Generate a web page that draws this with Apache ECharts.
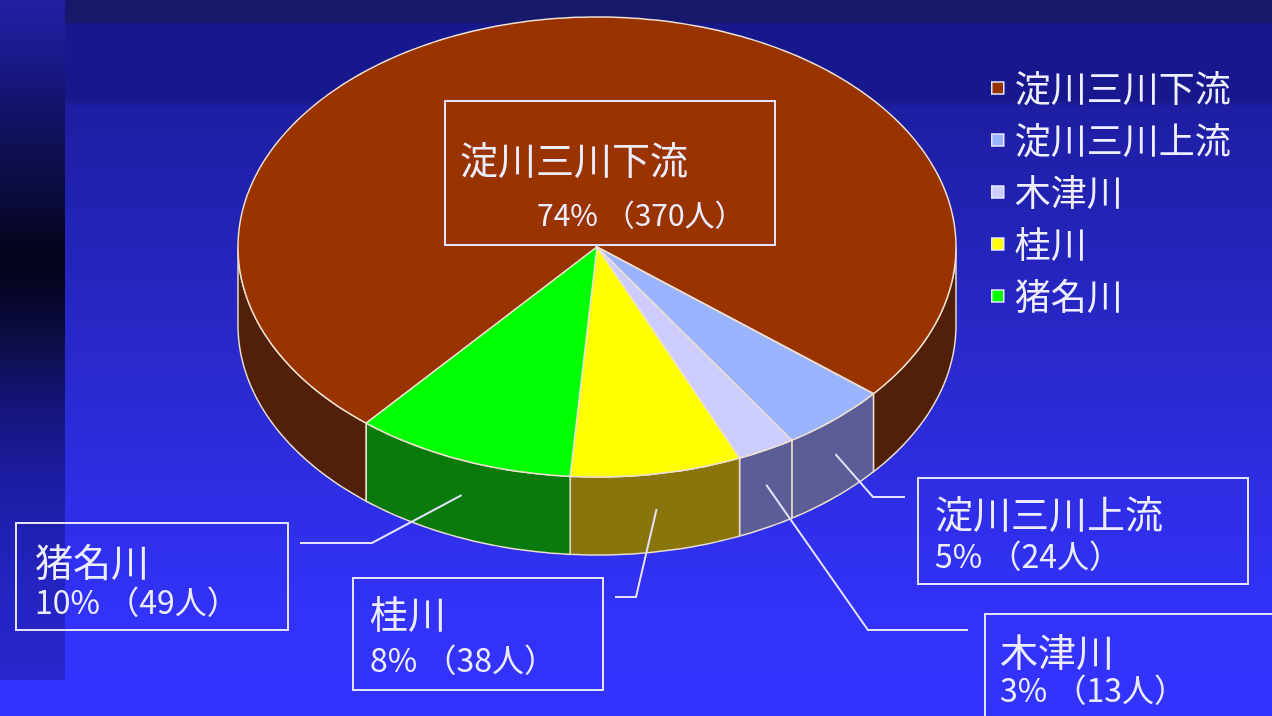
<!DOCTYPE html>
<html>
<head>
<meta charset="utf-8">
<title>淀川三川 参加者内訳</title>
<script src="https://cdn.jsdelivr.net/npm/echarts@6.0.0/dist/echarts.min.js"></script>
<style>
html, body { margin: 0; padding: 0; background: #2a2ad0; }
#chart { width: 1272px; height: 716px; }
</style>
</head>
<body>
<div id="chart"></div>
<script>
var names = ['淀川三川下流', '淀川三川上流', '木津川', '桂川', '猪名川'];
var values = [370, 24, 13, 38, 49];
var pctLabels = ['74%', '5%', '3%', '8%', '10%'];

var topColors = ['#993300', '#99b3ff', '#ccccff', '#ffff00', '#00ff00'];
var sideColors = ['#521f08', '#5c5c96', '#5c5c96', '#8a750c', '#0a7a0c'];

// ellipse of the top face, thickness of the disc
var cx = 597, cy = 247, rx = 359, ry = 230, depth = 78, startDeg = 130;
var font = '"Noto Sans CJK JP", "Noto Sans CJK SC", sans-serif';
var lineColor = '#e2e2ff';

var labelLayout = [
  {box: [445, 101, 330, 144], name: [460, 160], pct: [537, 215], pctSize: 30},
  {box: [918, 478, 330, 106], name: [935, 514], pct: [935, 556], elbow: [873, 497], end: [905, 497]},
  {box: [985, 614, 300, 112], name: [1000, 652], pct: [1000, 690], elbow: [868, 630], end: [968, 630]},
  {box: [353, 578, 250, 112], name: [370, 614], pct: [370, 660], elbow: [636, 597], end: [615, 597]},
  {box: [16, 523, 272, 107], name: [35, 562], pct: [35, 602], elbow: [372, 543], end: [300, 543]}
];

var total = values.reduce(function (a, b) { return a + b; }, 0);

function pt(deg, dy) {
  var a = deg * Math.PI / 180;
  return [cx + rx * Math.cos(a), cy + ry * Math.sin(a) + (dy || 0)];
}

function arc(a0, a1, dy) {
  var pts = [];
  var n = Math.max(2, Math.ceil(Math.abs(a1 - a0)));
  for (var i = 0; i <= n; i++) pts.push(pt(a0 + (a1 - a0) * i / n, dy));
  return pts;
}

function renderSlice(params, api) {
  var idx = params.seriesIndex;
  var before = 0;
  for (var i = 0; i < idx; i++) before += values[i];
  var a0 = startDeg + before / total * 360;
  var a1 = a0 + api.value(0) / total * 360;
  var children = [];

  // outer wall, only the front half of the disc shows
  [0, 360].forEach(function (base) {
    var lo = Math.max(a0, base), hi = Math.min(a1, base + 180);
    if (hi > lo) {
      children.push({
        type: 'polygon', z2: 1,
        shape: {points: arc(lo, hi, 0).concat(arc(hi, lo, depth))},
        style: {fill: sideColors[idx], stroke: '#e8dccc', lineWidth: 1.5}
      });
    }
  });

  children.push({
    type: 'polygon', z2: 2,
    shape: {points: [[cx, cy]].concat(arc(a0, a1, 0))},
    style: {fill: topColors[idx], stroke: '#eee0d0', lineWidth: 1.5}
  });

  var lay = labelLayout[idx];
  if (lay.elbow) {
    var mid = (a0 + a1) / 2;
    children.push({
      type: 'polyline', z2: 3,
      shape: {points: [pt(mid, depth * 0.45), lay.elbow, lay.end]},
      style: {stroke: lineColor, lineWidth: 2, fill: null}
    });
  }
  children.push({
    type: 'rect', z2: 3,
    shape: {x: lay.box[0], y: lay.box[1], width: lay.box[2], height: lay.box[3]},
    style: {fill: null, stroke: lineColor, lineWidth: 2}
  });
  children.push({
    type: 'text', z2: 4,
    style: {
      x: lay.name[0], y: lay.name[1], text: names[idx], fill: '#ececff',
      font: '38px ' + font, verticalAlign: 'middle', align: 'left'
    }
  });
  children.push({
    type: 'text', z2: 4,
    style: {
      x: lay.pct[0], y: lay.pct[1], text: pctLabels[idx] + ' （' + values[idx] + '人）', fill: '#ececff',
      font: (lay.pctSize || 32) + 'px ' + font, verticalAlign: 'middle', align: 'left'
    }
  });
  return {type: 'group', children: children};
}

var series = names.map(function (n, i) {
  return {
    type: 'custom',
    name: n,
    coordinateSystem: 'none',
    silent: true,
    renderItem: renderSlice,
    itemStyle: {color: topColors[i]},
    data: [[values[i]]]
  };
});

var myChart = echarts.init(document.getElementById('chart'));
myChart.setOption({
  animation: false,
  graphic: [{
    type: 'rect', z: -10, silent: true,
    shape: {x: 0, y: 0, width: 1272, height: 716},
    style: {
      fill: new echarts.graphic.LinearGradient(0, 0, 0, 1, [
        {offset: 0, color: '#18186a'},
        {offset: 0.03, color: '#18186c'},
        {offset: 0.035, color: '#18188e'},
        {offset: 0.14, color: '#18188e'},
        {offset: 0.15, color: '#1e1ea2'},
        {offset: 0.3, color: '#2222b4'},
        {offset: 0.5, color: '#2929cc'},
        {offset: 0.7, color: '#2e2ee6'},
        {offset: 0.85, color: '#3232f8'},
        {offset: 1, color: '#3333ff'}
      ])
    }
  }, {
    type: 'rect', z: -9, silent: true,
    shape: {x: 0, y: 0, width: 65, height: 680},
    style: {
      fill: new echarts.graphic.LinearGradient(0, 0, 0, 1, [
        {offset: 0, color: '#2020a2'},
        {offset: 0.06, color: '#1c1c92'},
        {offset: 0.12, color: '#16167a'},
        {offset: 0.2, color: '#10105a'},
        {offset: 0.3, color: '#0a0a38'},
        {offset: 0.37, color: '#03031a'},
        {offset: 0.42, color: '#050522'},
        {offset: 0.5, color: '#0d0d48'},
        {offset: 0.6, color: '#15157a'},
        {offset: 0.7, color: '#1c1ca0'},
        {offset: 0.85, color: '#2323c0'},
        {offset: 1, color: '#2727cc'}
      ])
    }
  }],
  legend: {
    orient: 'vertical',
    left: 986,
    top: 65,
    itemWidth: 12,
    itemHeight: 12,
    itemGap: 16,
    icon: 'rect',
    selectedMode: false,
    itemStyle: {borderColor: '#e8e8ff', borderWidth: 1.5},
    textStyle: {color: '#eeeeff', fontSize: 36, fontFamily: font, padding: [0, 0, 0, 6]},
    data: names
  },
  series: series
});
</script>
</body>
</html>
